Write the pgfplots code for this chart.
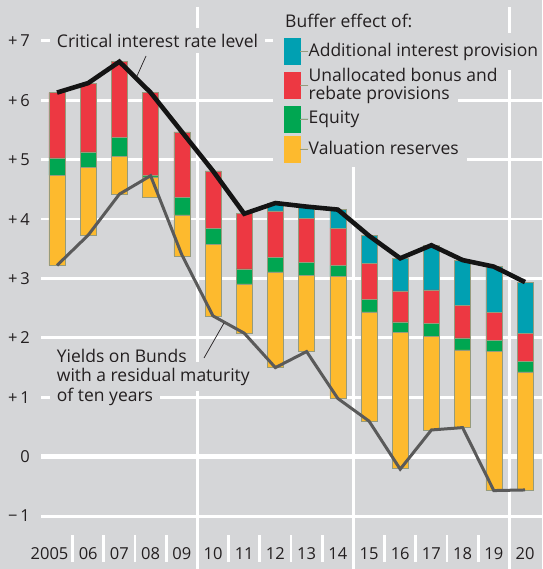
\documentclass[border=0pt]{standalone}
\usepackage{pgfplots}
\pgfplotsset{compat=1.18}
\usepackage{fontspec}
\setmainfont{Open Sans}
\definecolor{bg}{RGB}{213,214,216}
\definecolor{cteal}{RGB}{0,160,178}
\definecolor{cred}{RGB}{237,56,66}
\definecolor{cgreen}{RGB}{0,166,81}
\definecolor{cyellow}{RGB}{253,186,46}
\definecolor{cgray}{RGB}{90,90,90}
\definecolor{txt}{RGB}{35,31,32}
\definecolor{edge}{RGB}{150,155,125}
\pgfplotstableread{
i base yellow green red teal crit yield
0 3.22 1.52 0.29 1.10 0.00 6.13 3.22
1 3.73 1.14 0.26 1.16 0.00 6.29 3.73
2 4.42 0.64 0.32 1.27 0.00 6.65 4.42
3 4.36 0.35 0.02 1.40 0.00 6.13 4.73
4 3.38 0.69 0.30 1.10 0.00 5.47 3.40
5 2.36 1.22 0.26 0.97 0.00 4.81 2.37
6 2.08 0.83 0.25 0.93 0.00 4.09 2.08
7 1.50 1.61 0.24 0.79 0.13 4.27 1.50
8 1.77 1.28 0.22 0.74 0.20 4.21 1.77
9 0.98 2.05 0.19 0.63 0.31 4.16 0.98
10 0.60 1.84 0.21 0.61 0.46 3.72 0.60
11 -0.20 2.29 0.18 0.52 0.55 3.34 -0.21
12 0.45 1.58 0.21 0.57 0.75 3.56 0.45
13 0.49 1.31 0.20 0.55 0.76 3.31 0.49
14 -0.57 2.34 0.19 0.47 0.77 3.20 -0.57
15 -0.56 1.99 0.18 0.46 0.87 2.94 -0.56
}\data
\pgfplotsset{
  common/.style={
    at={(0pt,0pt)}, anchor=origin, disabledatascaling,
    x=31.2pt, y=59.4pt,
    xmin=-0.513, xmax=15.545, ymin=-1.32, ymax=7.57,
  },
}
\newcommand\lbl{\fontsize{17.5}{20.5}\selectfont}
\begin{document}
\lbl
\begin{tikzpicture}
\fill[bg] (-57pt,-112.3pt) rectangle (485pt,456.7pt);
\begin{axis}[common,
  ybar stacked, stack negative=on previous, bar width=16pt,
  axis line style={draw=none},
  xtick={0,...,15},
  xticklabels={\hspace*{-15pt}2005,06,07,08,09,10,11,12,13,14,15,16,17,18,19,20},
  minor xtick={0.5,1.5,...,14.5},
  ytick={-1,...,7},
  yticklabels={−\,1,0,+\,1,+\,2,+\,3,+\,4,+\,5,+\,6,+\,7},
  xtick pos=bottom, ytick pos=left,
  tick align=outside,
  major tick length=0pt,
  minor tick length=27pt,
  minor tick style={white, line width=2.8pt},
  major tick style={draw=none},
  ymajorgrids,
  major grid style={white, line width=2.8pt},
  extra x ticks={4.5,9.5,14.5},
  extra x tick labels={},
  extra x tick style={grid=major, major tick length=34pt,
     major tick style={draw=white, line width=2.8pt}},
  extra y ticks={0},
  extra y tick labels={},
  extra y tick style={grid=major, major grid style={white, line width=5.5pt}},
  ticklabel style={font=\fontsize{16.5}{20}\selectfont},
  yticklabel style={inner sep=0pt, xshift=-11pt, anchor=east, text=txt},
  xticklabel style={inner sep=0pt, anchor=north, yshift=-12pt, text=txt},
  legend style={at={(axis cs:7.276,7.049)}, anchor=north west,
    draw=none, fill=none, inner sep=0pt, row sep=3.5pt,
    column sep=0pt,
    nodes={inner sep=0pt, text=txt, align=left, anchor=west,
      font=\fontsize{17.5}{18}\selectfont}},
  legend cell align=left,
  reverse legend,
]
% background boxes behind legend and labels
\fill[bg] (6.923,7.689) rectangle (11.795,7.133);
\fill[bg] (6.923,7.133) rectangle (15.545,6.510);
\fill[bg] (6.923,6.510) rectangle (14.295,6.224);
\fill[bg] (6.923,6.224) rectangle (12.853,5.955);
\fill[bg] (6.923,5.955) rectangle (10.994,5.450);
\fill[bg] (6.923,5.450) rectangle (13.141,4.878);
\addplot[draw=none, fill=none, forget plot] table[x=i, y=base] {\data};
\addplot[fill=cyellow, draw=edge, line width=0.5pt,
  legend image code/.code={\fill[cyellow] (0pt,-13pt) rectangle (16pt,13pt); \path (16pt,0pt) -- (24pt,0pt);}]
  table[x=i, y=yellow] {\data};
\addlegendentry{Valuation reserves}
\addplot[fill=cgreen, draw=edge, line width=0.5pt,
  legend image code/.code={\fill[cgreen] (0pt,-13pt) rectangle (16pt,13pt); \path (16pt,0pt) -- (24pt,0pt);}]
  table[x=i, y=green] {\data};
\addlegendentry{Equity}
\addplot[fill=cred, draw=edge, line width=0.5pt,
  legend image code/.code={\fill[cred] (0pt,-13pt) rectangle (16pt,13pt); \path (16pt,0pt) -- (24pt,0pt);}]
  table[x=i, y=red] {\data};
\addlegendentry{Unallocated bonus and\\rebate provisions}
\addplot[fill=cteal, draw=edge, line width=0.5pt,
  legend image code/.code={\fill[cteal] (0pt,-13pt) rectangle (16pt,13pt); \path (16pt,0pt) -- (24pt,0pt);}]
  table[x=i, y=teal] {\data};
\addlegendentry{Additional interest provision}
\end{axis}
\begin{axis}[common, hide axis, clip=false]
\node[fill=bg, inner xsep=7pt, inner ysep=6pt, text=txt] at (3.221,7.007) {Critical interest rate level};
\node[fill=bg, anchor=west, inner xsep=7pt, inner ysep=6pt, text=txt] at (-0.234,1.695) {Yields on Bunds};
\node[fill=bg, anchor=west, inner xsep=7pt, inner ysep=6pt, text=txt] at (-0.234,1.347) {with a residual maturity};
\node[fill=bg, anchor=west, inner xsep=7pt, inner ysep=6pt, text=txt] at (-0.234,1.010) {of ten years};
\node[anchor=west, inner sep=0pt, text=txt] at (7.308,7.335) {Buffer effect of:};
\addplot[cgray, line width=3pt, mark=none, line join=miter] table[x=i, y=yield] {\data};
\addplot[black!92, line width=4.6pt, mark=none, line join=miter] table[x=i, y=crit] {\data};
\draw[txt, line width=0.7pt] (2.564,6.409) -- (2.853,6.746);
\draw[txt, line width=0.7pt] (4.712,1.662) -- (5.353,2.251);
\end{axis}
\pgfresetboundingbox
\path (-57pt,-112.3pt) rectangle (485pt,456.7pt);
\end{tikzpicture}
\end{document}
